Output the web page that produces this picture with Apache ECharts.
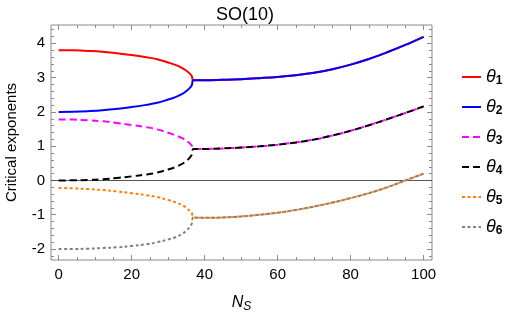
<!DOCTYPE html>
<html>
<head>
<meta charset="utf-8">
<script src="https://cdn.jsdelivr.net/npm/echarts@6/dist/echarts.min.js"></script>
<style>html,body{margin:0;padding:0;background:#fff;}#c{width:512px;height:313px;}</style>
</head>
<body>
<div id="c"></div>
<script>
// Before the bifurcation (N_S ~ 36.9): six real exponents
var nBranch = [0, 4, 8, 12, 16, 20, 24, 27, 30, 32, 34, 35, 36, 36.5, 36.9];
var theta1 = [3.80, 3.795, 3.78, 3.755, 3.71, 3.66, 3.595, 3.535, 3.44, 3.37, 3.27, 3.20, 3.11, 3.04, 2.92];
var theta2 = [2.00, 2.005, 2.02, 2.045, 2.09, 2.14, 2.205, 2.265, 2.36, 2.43, 2.53, 2.61, 2.71, 2.78, 2.92];
var theta3 = [1.78, 1.775, 1.755, 1.725, 1.675, 1.62, 1.555, 1.49, 1.39, 1.32, 1.225, 1.16, 1.075, 1.015, 0.92];
var theta4 = [0.00, 0.005, 0.015, 0.035, 0.075, 0.12, 0.175, 0.23, 0.32, 0.39, 0.495, 0.57, 0.675, 0.755, 0.92];
var theta5 = [-0.22, -0.23, -0.25, -0.28, -0.32, -0.37, -0.43, -0.485, -0.57, -0.635, -0.73, -0.795, -0.90, -0.95, -1.08];
var theta6 = [-2.00, -2.00, -1.99, -1.97, -1.95, -1.91, -1.86, -1.805, -1.72, -1.655, -1.55, -1.465, -1.34, -1.25, -1.08];
// After the bifurcation: pairs share the same real part
var nTail = [36.9, 40, 45, 50, 55, 60, 65, 70, 75, 80, 85, 90, 95, 100];
var tailUpper = [2.92, 2.92, 2.935, 2.955, 2.985, 3.02, 3.07, 3.14, 3.245, 3.38, 3.545, 3.74, 3.955, 4.19];
var tailMiddle = [0.92, 0.92, 0.935, 0.96, 0.995, 1.045, 1.11, 1.195, 1.31, 1.45, 1.61, 1.785, 1.97, 2.16];
var tailLower = [-1.08, -1.09, -1.08, -1.05, -1.00, -0.94, -0.86, -0.76, -0.645, -0.515, -0.37, -0.20, 0.00, 0.20];

var xRange = [-2.1, 102.3];
var yRange = [-2.32, 4.535];
var xTickRange = [0, 100];     // major every 20, minor every 5
var yTickRange = [-2, 4];      // major every 1
var yMinorRange = [-2.2, 4.4]; // minor every 0.2

var names = ['θ1', 'θ2', 'θ3', 'θ4', 'θ5', 'θ6'];
var colors = ['#ff0000', '#0000ff', '#ff00ff', '#000000', '#ff8000', '#808080'];
var types = ['solid', 'solid', [7, 4], [7, 4], [3, 2.5], [3, 2.5]];
var branches = [theta1, theta2, theta3, theta4, theta5, theta6];
var tails = [tailUpper, tailUpper, tailMiddle, tailMiddle, tailLower, tailLower];

function zip(a, b) { return a.map(function (x, j) { return [x, b[j]]; }); }

var series = names.map(function (nm, j) {
  var pts = zip(nBranch, branches[j]).concat(zip(nTail, tails[j]).slice(1));
  var s = {
    name: nm, type: 'line', data: pts, symbol: 'none', smooth: 0.4,
    xAxisIndex: 0, yAxisIndex: 0,
    lineStyle: { color: colors[j], width: 2, type: types[j] },
    itemStyle: { color: colors[j] }, z: 3 + j
  };
  if (j === 0) {
    s.markLine = { silent: true, symbol: 'none', label: { show: false },
      lineStyle: { color: '#555', width: 1, type: 'solid' }, data: [{ yAxis: 0 }] };
  }
  return s;
});

// plot frame geometry
var G = { left: 51, right: 80, top: 25, bottom: 53 };
var pw = 512 - G.left - G.right, ph = 313 - G.top - G.bottom;
var kx = pw / (xRange[1] - xRange[0]);
var ky = ph / (yRange[1] - yRange[0]);
var frame = '#8a8a8a';
var lblFont = { color: '#000', fontSize: 15, fontFamily: 'Liberation Sans' };

function hiddenAxis(gi) { return { type: 'value', gridIndex: gi, show: false, min: 0, max: 1 }; }
function tickAxis(gi, pos, rng, interval, len, labels, minorSplit, margin) {
  var a = { type: 'value', gridIndex: gi, position: pos, min: rng[0], max: rng[1], interval: interval,
    axisLine: { show: false, onZero: false },
    axisTick: { show: true, inside: true, length: len, lineStyle: { color: frame, width: 1 } },
    axisLabel: labels ? Object.assign({ show: true, margin: margin,
      formatter: function (v) { return v < 0 ? '-' + Math.abs(v) : String(v); } }, lblFont) : { show: false },
    splitLine: { show: false } };
  if (minorSplit) a.minorTick = { show: true, splitNumber: minorSplit, length: 3, lineStyle: { color: frame, width: 1 } };
  return a;
}
function mkGrid(l, r, t, b, extra) {
  return Object.assign({ left: l, right: r, top: t, bottom: b, containLabel: false, outerBoundsMode: 'none' }, extra || {});
}

var grids = [
  mkGrid(G.left, G.right, G.top, G.bottom, { show: true, borderColor: frame, borderWidth: 1, backgroundColor: 'transparent' }),
  mkGrid(G.left + (xTickRange[0] - xRange[0]) * kx, G.right + (xRange[1] - xTickRange[1]) * kx, G.top, G.bottom),
  mkGrid(G.left, G.right, G.top + (yRange[1] - yTickRange[1]) * ky, G.bottom + (yTickRange[0] - yRange[0]) * ky),
  mkGrid(G.left, G.right, G.top + (yRange[1] - yMinorRange[1]) * ky, G.bottom + (yMinorRange[0] - yRange[0]) * ky)
];

var xAxes = [
  { type: 'value', gridIndex: 0, min: xRange[0], max: xRange[1], axisLine: { show: false }, axisTick: { show: false }, axisLabel: { show: false }, splitLine: { show: false },
    name: '{n|N}{s|S}', nameLocation: 'middle', nameGap: 33,
    nameTextStyle: { rich: {
      n: { fontSize: 16, fontStyle: 'italic', fontFamily: 'Liberation Sans', color: '#000', lineHeight: 20 },
      s: { fontSize: 12, fontStyle: 'italic', fontFamily: 'Liberation Sans', color: '#000', lineHeight: 12, verticalAlign: 'bottom' } } } },
  tickAxis(1, 'bottom', xTickRange, 20, 5, true, 4, 7),
  tickAxis(1, 'top', xTickRange, 20, 5, false, 4, 0),
  hiddenAxis(2),
  hiddenAxis(3)
];
var yAxes = [
  { type: 'value', gridIndex: 0, min: yRange[0], max: yRange[1], axisLine: { show: false }, axisTick: { show: false }, axisLabel: { show: false }, splitLine: { show: false },
    name: 'Critical exponents', nameLocation: 'middle', nameGap: 32,
    nameTextStyle: { color: '#000', fontSize: 15, fontFamily: 'Liberation Sans' } },
  hiddenAxis(1),
  tickAxis(2, 'left', yTickRange, 1, 5, true, 0, 6),
  tickAxis(2, 'right', yTickRange, 1, 5, false, 0, 0),
  tickAxis(3, 'left', yMinorRange, 0.2, 3, false, 0, 0),
  tickAxis(3, 'right', yMinorRange, 0.2, 3, false, 0, 0)
];

var chart = echarts.init(document.getElementById('c'), null, { renderer: 'canvas' });
chart.setOption({
  animation: false,
  backgroundColor: '#fff',
  title: { text: 'SO(10)', left: 240, top: 1, textAlign: 'center',
    textStyle: { color: '#000', fontSize: 18, fontWeight: 'normal', fontFamily: 'Liberation Sans' } },
  grid: grids,
  xAxis: xAxes,
  yAxis: yAxes,
  legend: {
    orient: 'vertical', left: 456, top: 63, itemWidth: 19, itemHeight: 14, itemGap: 11,
    data: names,
    itemStyle: { opacity: 0, borderWidth: 0 },
    formatter: function (nm) { return '{t|θ}{s|' + nm.slice(1) + '}'; },
    textStyle: { rich: {
      t: { fontSize: 18, fontStyle: 'italic', fontFamily: 'Liberation Sans', color: '#000', lineHeight: 20 },
      s: { fontSize: 12, fontWeight: 'bold', fontFamily: 'Liberation Sans', color: '#000', lineHeight: 12, verticalAlign: 'bottom' } } }
  },
  series: series
});
</script>
</body>
</html>
